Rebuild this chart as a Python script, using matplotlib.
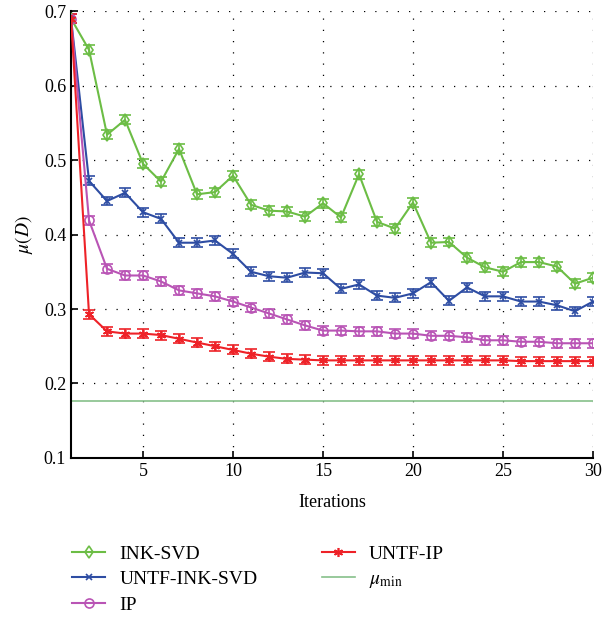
import matplotlib
matplotlib.use("Agg")
import matplotlib.pyplot as plt
import numpy as np

plt.rcParams['font.family'] = ['Liberation Serif', 'DejaVu Serif']
plt.rcParams['mathtext.fontset'] = 'stix'

iterations = list(range(1, 31))
ink_svd = [0.690, 0.648, 0.534, 0.554, 0.495, 0.471, 0.515, 0.454, 0.457, 0.479,
           0.440, 0.432, 0.431, 0.424, 0.442, 0.423, 0.481, 0.417, 0.408, 0.443,
           0.389, 0.390, 0.369, 0.356, 0.350, 0.363, 0.363, 0.357, 0.334, 0.342]
untf_ink_svd = [0.690, 0.472, 0.445, 0.456, 0.430, 0.421, 0.389, 0.389, 0.392, 0.374,
                0.350, 0.344, 0.342, 0.349, 0.348, 0.327, 0.333, 0.318, 0.315, 0.321,
                0.336, 0.311, 0.329, 0.317, 0.317, 0.310, 0.310, 0.305, 0.297, 0.310]
ip = [0.690, 0.419, 0.354, 0.345, 0.345, 0.337, 0.325, 0.321, 0.317, 0.310,
      0.302, 0.294, 0.286, 0.278, 0.271, 0.271, 0.270, 0.270, 0.267, 0.267,
      0.264, 0.264, 0.262, 0.258, 0.258, 0.256, 0.256, 0.254, 0.254, 0.254]
untf_ip = [0.690, 0.293, 0.270, 0.267, 0.267, 0.265, 0.260, 0.255, 0.250, 0.245,
           0.240, 0.236, 0.233, 0.232, 0.231, 0.231, 0.231, 0.231, 0.231, 0.231,
           0.231, 0.231, 0.231, 0.231, 0.231, 0.230, 0.230, 0.230, 0.230, 0.230]
mu_min = 0.176
err = 0.006

c_green = '#6cbd45'
c_blue = '#2e4da3'
c_pink = '#b954b5'
c_red = '#ee2228'
c_min = '#86c08a'

fig = plt.figure(figsize=(6.02, 6.18), dpi=100)
ax = fig.add_axes([0.118, 0.259, 0.867, 0.723])

asterisk = (6, 2, 0)
series = [
    (ink_svd, c_green, 'd', 6.5, 'INK-SVD'),
    (untf_ink_svd, c_blue, 'x', 5, 'UNTF-INK-SVD'),
    (ip, c_pink, 'o', 6.5, 'IP'),
    (untf_ip, c_red, asterisk, 6.5, 'UNTF-IP'),
]
handles = {}
for vals, col, mk, ms, lab in series:
    ax.errorbar(iterations, vals, yerr=err, color=col, ecolor=col, elinewidth=1.2,
                capsize=4, capthick=1.2, lw=1.5, marker=mk, markersize=ms,
                markerfacecolor='none', markeredgecolor=col, markeredgewidth=1.2,
                zorder=3)
    h, = ax.plot([], [], color=col, lw=1.5, marker=mk, markersize=ms,
                 markerfacecolor='none', markeredgecolor=col, markeredgewidth=1.2,
                 label=lab)
    handles[lab] = h

hmin = ax.axhline(mu_min, color=c_min, lw=1.2, label=r'$\mu_{\mathrm{min}}$')

ax.set_xlim(1, 30)
ax.set_ylim(0.1, 0.7)
ax.set_xticks([5, 10, 15, 20, 25, 30])
ax.set_yticks([0.1, 0.2, 0.3, 0.4, 0.5, 0.6, 0.7])
ax.set_yticklabels(['0.1', '0.2', '0.3', '0.4', '0.5', '0.6', '0.7'])
ax.tick_params(direction='in', labelsize=13, length=5, width=1.2)
ax.grid(True, color='black', linestyle=(0, (1, 8)), lw=0.9)
for s in ['top', 'right']:
    ax.spines[s].set_visible(False)
for s in ['left', 'bottom']:
    ax.spines[s].set_linewidth(1.5)

ax.set_xlabel('Iterations', fontsize=13, labelpad=10)
ax.set_ylabel(r'$\mu(D)$', fontsize=14, labelpad=6)

hl = [handles['INK-SVD'], handles['UNTF-INK-SVD'], handles['IP'], handles['UNTF-IP'], hmin]
ll = ['INK-SVD', 'UNTF-INK-SVD', 'IP', 'UNTF-IP', r'$\mu_{\mathrm{min}}$']
fig.legend(hl, ll, loc='upper left', bbox_to_anchor=(0.091, 0.146), ncol=2,
           frameon=False, fontsize=14, handlelength=1.7, columnspacing=3.3,
           labelspacing=0.4, handletextpad=0.72)

fig.savefig('out.png', dpi=100)
